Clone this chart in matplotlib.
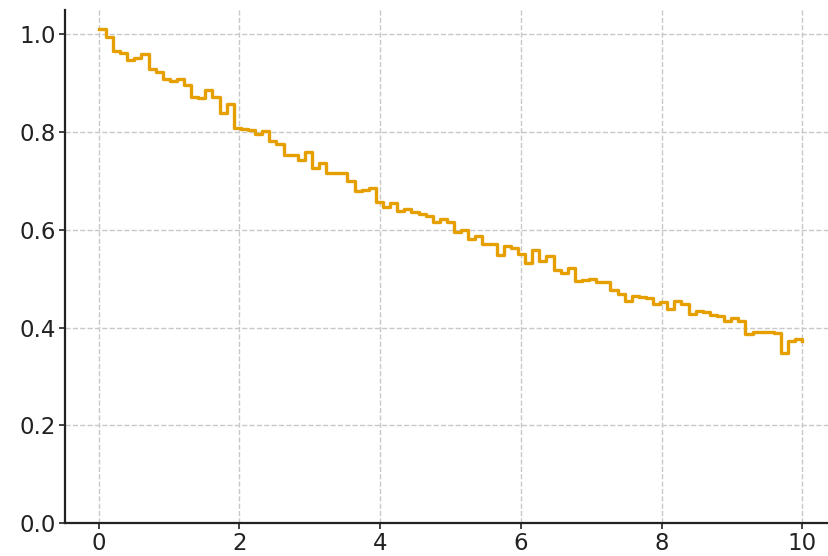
import numpy as np
import matplotlib
matplotlib.use("Agg")
import matplotlib.pyplot as plt

# valores (100 puntos, x de 0 a 10)
x = np.linspace(0, 10, 100)
y = [
    1.012, 0.994, 0.967, 0.961, 0.947, 0.951, 0.959, 0.930, 0.923, 0.909,
    0.905, 0.909, 0.896, 0.872, 0.869, 0.887, 0.872, 0.839, 0.857, 0.809,
    0.807, 0.804, 0.797, 0.803, 0.782, 0.775, 0.754, 0.754, 0.743, 0.760,
    0.727, 0.736, 0.717, 0.717, 0.717, 0.700, 0.679, 0.681, 0.686, 0.658,
    0.647, 0.654, 0.639, 0.642, 0.637, 0.632, 0.629, 0.617, 0.623, 0.617,
    0.595, 0.600, 0.582, 0.587, 0.572, 0.572, 0.548, 0.567, 0.562, 0.550,
    0.532, 0.559, 0.537, 0.546, 0.517, 0.512, 0.521, 0.495, 0.497, 0.500,
    0.493, 0.493, 0.476, 0.469, 0.455, 0.465, 0.463, 0.460, 0.448, 0.452,
    0.438, 0.455, 0.448, 0.428, 0.433, 0.432, 0.425, 0.423, 0.413, 0.419,
    0.413, 0.386, 0.390, 0.390, 0.390, 0.388, 0.348, 0.372, 0.377, 0.372,
]

fig = plt.figure(figsize=(8.29, 5.56), dpi=100)
ax = fig.add_axes([65/829, 33/556, (829-65)/829, (523-10)/556])

ax.step(x, y, where="post", color="#E69F00", lw=2.4)

ax.set_xlim(-0.48, 10.38)
ax.set_ylim(0, 1.05)
ax.set_xticks([0, 2, 4, 6, 8, 10])
ax.set_yticks([0.0, 0.2, 0.4, 0.6, 0.8, 1.0])

ax.grid(True, linestyle="--", color="#c8c8c8", lw=1)
ax.set_axisbelow(True)
for s in ["top", "right"]:
    ax.spines[s].set_visible(False)
for s in ["left", "bottom"]:
    ax.spines[s].set_color("#222222")
    ax.spines[s].set_linewidth(1.6)
ax.tick_params(labelsize=16.5, colors="#222222", length=4, width=1.2, pad=2.5)

fig.savefig("out.png", dpi=100)
